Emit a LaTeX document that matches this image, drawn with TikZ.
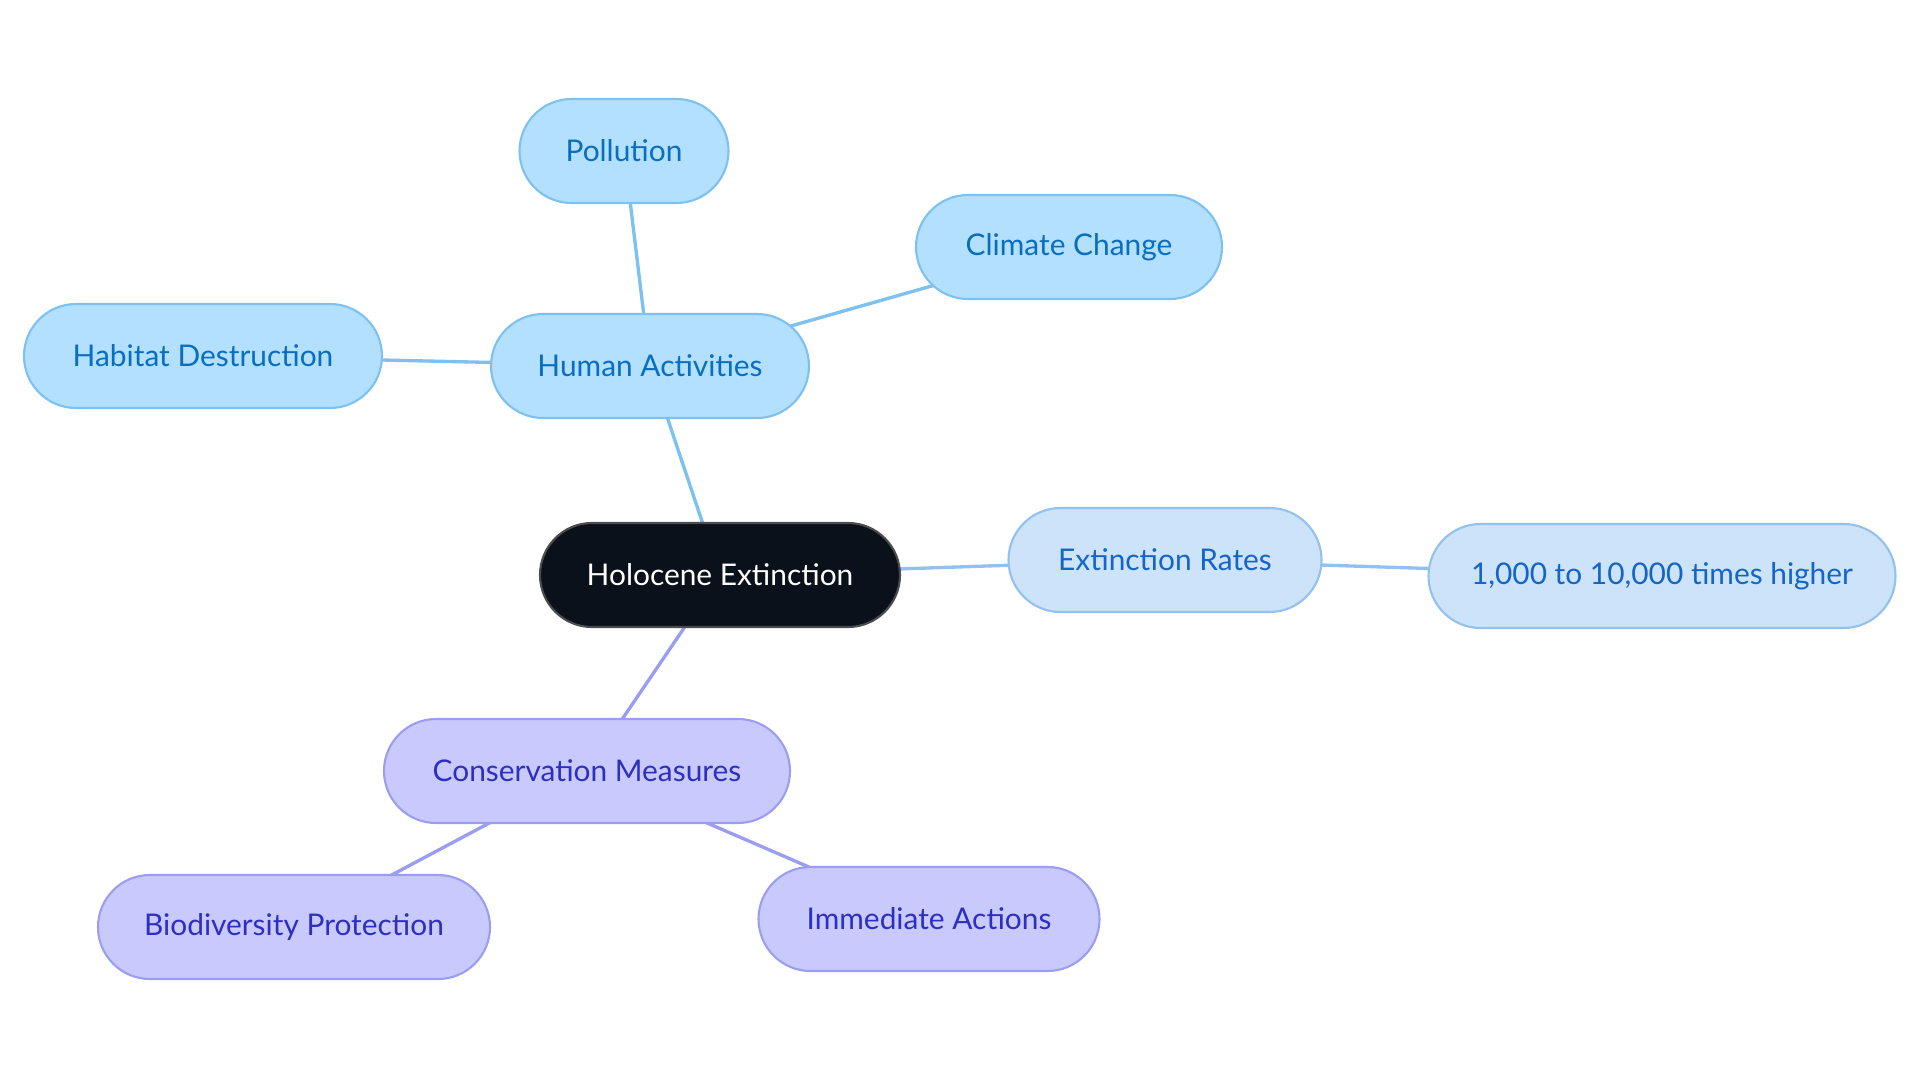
\documentclass[tikz,border=0pt]{standalone}
\usepackage{fontspec}
\setmainfont{Lato}
\usepackage{xcolor}
\usepackage{tikz}
\usetikzlibrary{positioning, backgrounds}

\definecolor{rootfill}{HTML}{0B111A}
\definecolor{humfill}{HTML}{B3E0FF}
\definecolor{humdraw}{HTML}{7DC1F0}
\definecolor{humtext}{HTML}{0A6EC0}
\definecolor{ratefill}{HTML}{CCE3FA}
\definecolor{ratedraw}{HTML}{94C0F0}
\definecolor{ratetext}{HTML}{1565C8}
\definecolor{consfill}{HTML}{C8CAFD}
\definecolor{consdraw}{HTML}{9B9EF0}
\definecolor{constext}{HTML}{2E2EC0}

\tikzset{
  %% Pill shaped topic node
  pill/.style={
    rectangle, rounded corners=0.52cm,
    draw=#1draw, fill=#1fill, text=#1text,
    minimum height=1.04cm, inner sep=2pt,
    font=\fontsize{8.5}{10}\selectfont,
    line width=0.6pt
  },
  pill/.default=hum,
  %% Central node
  rootpill/.style={
    rectangle, rounded corners=0.52cm,
    draw=black!70, fill=rootfill, text=white,
    minimum height=1.04cm, inner sep=2pt,
    font=\fontsize{8.5}{10}\selectfont,
    line width=0.6pt
  },
  %% Connector
  link/.style={draw=#1draw, line width=0.95pt},
  link/.default=hum,
}

\begin{document}
\begin{tikzpicture}

  \useasboundingbox (0,0) rectangle (19.2,-10.83);

  %% Centre
  \node[rootpill, minimum width=3.60cm] (holo) at (7.20,-5.75) {Holocene Extinction};

  %% Human activities branch
  \node[pill, minimum width=3.18cm] (human)   at (6.50,-3.66) {Human Activities};
  \node[pill, minimum width=2.09cm] (pollut)  at (6.24,-1.51) {Pollution};
  \node[pill, minimum width=3.06cm] (climate) at (10.69,-2.47) {Climate Change};
  \node[pill, minimum width=3.58cm] (habitat) at (2.03,-3.56) {Habitat Destruction};

  %% Extinction rates branch
  \node[pill=rate, minimum width=3.13cm] (rates) at (11.65,-5.60) {Extinction Rates};
  \node[pill=rate, minimum width=4.67cm] (higher) at (16.62,-5.76) {1,000 to 10,000 times higher};

  %% Conservation branch
  \node[pill=cons, minimum width=4.06cm] (conserv) at (5.87,-7.71) {Conservation Measures};
  \node[pill=cons, minimum width=3.92cm] (biodiv)  at (2.94,-9.27) {Biodiversity Protection};
  \node[pill=cons, minimum width=3.41cm] (immed)   at (9.29,-9.19) {Immediate Actions};

  %% Connectors (centre to centre, hidden under the pills)
  \begin{scope}[on background layer]
    \draw[link] (holo.center) -- (human.center);
    \draw[link] (human.center) -- (pollut.center);
    \draw[link] (human.center) -- (climate.center);
    \draw[link] (human.center) -- (habitat.center);
    \draw[link=rate] (holo.center) -- (rates.center);
    \draw[link=rate] (rates.center) -- (higher.center);
    \draw[link=cons] (holo.center) -- (conserv.center);
    \draw[link=cons] (conserv.center) -- (biodiv.center);
    \draw[link=cons] (conserv.center) -- (immed.center);
  \end{scope}

\end{tikzpicture}
\end{document}
